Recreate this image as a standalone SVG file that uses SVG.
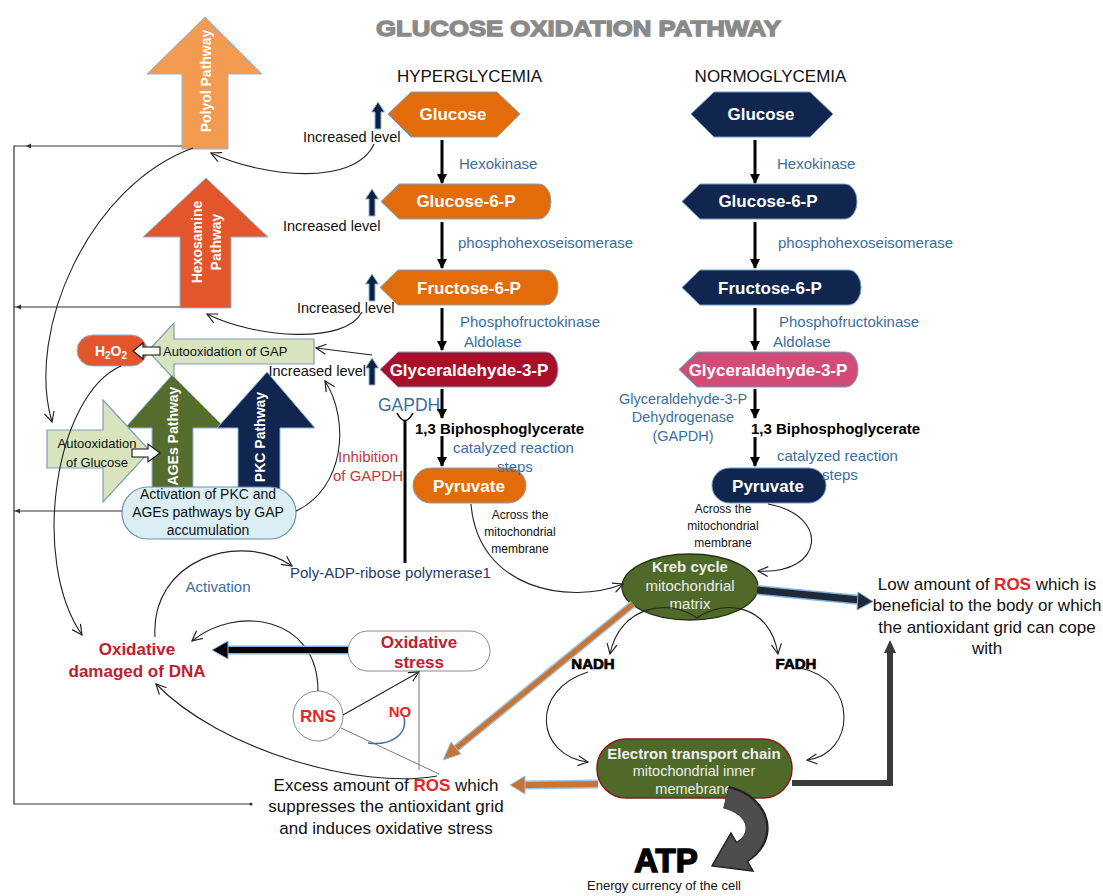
<svg xmlns="http://www.w3.org/2000/svg" width="1103" height="896" viewBox="0 0 1103 896">
<defs>
<style>
text{font-family:"Liberation Sans",Arial,sans-serif;}
.nt{font-weight:bold;fill:#fff;font-size:17px;text-anchor:middle}
.enz{fill:#3A6EA0;font-size:15px}
.lvl{fill:#111;font-size:14.5px}
.blk{fill:#111}
.red{fill:#C0202E;font-weight:bold;font-size:17px;text-anchor:middle}
.ros{fill:#E3262B;font-weight:bold}
.hyp{fill:#E36C0A;stroke:#7FA3C7;stroke-width:1}
.nor{fill:#10264F;stroke:#6F9BC8;stroke-width:1}
.thin{fill:none;stroke:#222;stroke-width:1.1;marker-end:url(#open)}
.step{stroke:#000;stroke-width:3;marker-end:url(#tri)}
.path{font-weight:bold;fill:#fff;font-size:14px;text-anchor:middle}
.lg{fill:#D7E4BD;stroke:#7F9DB9;stroke-width:1.2}
.wa{fill:#fff;stroke:#111;stroke-width:1.1}
.sm{fill:#111;font-size:12px;text-anchor:middle}
.gr{fill:#EDEDED;text-anchor:middle}
</style>
<marker id="tri" viewBox="0 0 10 10" refX="9" refY="5" markerWidth="10" markerHeight="10" markerUnits="userSpaceOnUse" orient="auto"><path d="M0,0 L10,5 L0,10 Z" fill="#000"/></marker>
<marker id="open" viewBox="0 0 12 12" refX="11" refY="6" markerWidth="12" markerHeight="12" markerUnits="userSpaceOnUse" orient="auto"><path d="M1,1 L11,6 L1,11" fill="none" stroke="#222" stroke-width="1.2"/></marker>
<path id="up" d="M0,0 L6.5,10 L3,10 L3,27 L-3,27 L-3,10 L-6.5,10 Z" fill="#0D2240" stroke="#8DB3E2" stroke-width="1"/>
</defs>

<rect width="1103" height="896" fill="#fff"/>

<text x="578.5" y="36" text-anchor="middle" font-size="22" font-weight="bold" fill="#8A8A8A" stroke="#8A8A8A" stroke-width="1.3" textLength="405" lengthAdjust="spacingAndGlyphs">GLUCOSE OXIDATION PATHWAY</text>
<text x="469.5" y="82" text-anchor="middle" font-size="17" fill="#111">HYPERGLYCEMIA</text>
<text x="770.5" y="82" text-anchor="middle" font-size="17" fill="#111">NORMOGLYCEMIA</text>

<!-- pathway block arrows -->
<g id="polyol">
<polygon points="205,17 262,74 228,74 228,149 182,149 182,74 147,74" fill="#F39B51" stroke="#8EB4E3" stroke-width="1"/>
<text class="path" transform="rotate(-90 206 81)" x="206" y="86">Polyol Pathway</text>
</g>
<g id="hexosamine">
<polygon points="206,178 268,237 231,237 231,308 180,308 180,237 143,237" fill="#E3562B" stroke="#8EB4E3" stroke-width="1"/>
<text class="path" transform="rotate(-90 206 242)" x="206" y="238">Hexosamine</text>
<text class="path" transform="rotate(-90 206 242)" x="206" y="257">Pathway</text>
</g>
<g id="autoox-gap">
<polygon class="lg" points="148,351 174,323 174,339 314,339 314,364 174,364 174,379"/>
<text x="163" y="356" font-size="13" class="blk">Autooxidation of GAP</text>
</g>
<g id="ages">
<polygon points="172,375 225,428 193,428 193,495 152,495 152,428 125,428" fill="#546C2C" stroke="#8EB4E3" stroke-width="1"/>
<text class="path" transform="rotate(-90 173 436)" x="173" y="441">AGEs Pathway</text>
</g>
<g id="pkc">
<polygon points="267,372 315,428 280,428 280,495 238,495 238,428 217,428" fill="#10264F" stroke="#8EB4E3" stroke-width="1"/>
<text class="path" transform="rotate(-90 260 437)" x="260" y="442">PKC Pathway</text>
</g>
<g id="autoox-glucose">
<polygon class="lg" points="47,430 103,430 103,400 150,451 103,502 103,468 47,468"/>
<text x="97" y="448" font-size="13" class="blk" text-anchor="middle">Autooxidation</text>
<text x="97" y="467" font-size="13" class="blk" text-anchor="middle">of Glucose</text>
<polygon class="wa" points="132,449 148,449 148,444 160,453 148,462 148,457 132,457"/>
</g>
<g id="h2o2">
<rect x="77" y="335" width="70" height="31" rx="15.5" fill="#E3562B" stroke="#8EB4E3" stroke-width="1"/>
<text x="111" y="356" font-size="14" font-weight="bold" fill="#fff" text-anchor="middle">H<tspan font-size="10" dy="3">2</tspan><tspan dy="-3">O</tspan><tspan font-size="10" dy="3">2</tspan></text>
<polygon class="wa" points="133,351 143,343 143,347 160,347 160,355 143,355 143,359"/>
</g>
<g id="activation">
<rect x="122" y="487" width="174" height="52" rx="26" fill="#DAEEF3" stroke="#6B8FB5" stroke-width="1.2"/>
<text x="208" y="499" font-size="14" class="blk" text-anchor="middle">Activation of PKC and</text>
<text x="208" y="517" font-size="14" class="blk" text-anchor="middle">AGEs pathways by GAP</text>
<text x="208" y="535" font-size="14" class="blk" text-anchor="middle">accumulation</text>
</g>

<!-- hyperglycemia column -->
<g id="h-glucose">
<polygon class="hyp" points="388,114 411,92 497,92 520,114 497,137 411,137"/>
<text class="nt" x="453" y="120">Glucose</text>
</g>
<g id="h-g6p">
<path class="hyp" d="M381,201.5 L399,184 H539 A12,17.5 0 0 1 539,219 H399 Z"/>
<text class="nt" x="466" y="207">Glucose-6-P</text>
</g>
<g id="h-f6p">
<path class="hyp" d="M380,287.5 L398,270 H546 A12,17.5 0 0 1 546,305 H398 Z"/>
<text class="nt" x="469" y="294">Fructose-6-P</text>
</g>
<g id="h-gap">
<path d="M380,369.5 L398,352 H546 A12,17.5 0 0 1 546,387 H398 Z" fill="#A8102A" stroke="#7FA3C7" stroke-width="1"/>
<text class="nt" x="469" y="376">Glyceraldehyde-3-P</text>
</g>
<g id="h-pyruvate">
<rect class="hyp" x="413" y="468" width="113" height="35" rx="17.5"/>
<text class="nt" x="469" y="492">Pyruvate</text>
</g>

<!-- normoglycemia column -->
<g id="n-glucose">
<polygon class="nor" points="691,114 714,92 810,92 833,114 810,137 714,137"/>
<text class="nt" x="761" y="120">Glucose</text>
</g>
<g id="n-g6p">
<path class="nor" d="M682,201.5 L700,184 H845 A12,17.5 0 0 1 845,219 H700 Z"/>
<text class="nt" x="768" y="207">Glucose-6-P</text>
</g>
<g id="n-f6p">
<path class="nor" d="M682,287.5 L700,270 H849 A12,17.5 0 0 1 849,305 H700 Z"/>
<text class="nt" x="770" y="294">Fructose-6-P</text>
</g>
<g id="n-gap">
<path d="M679,369.5 L697,352 H846 A12,17.5 0 0 1 846,387 H697 Z" fill="#D14D78" stroke="#6F9BC8" stroke-width="1"/>
<text class="nt" x="768" y="376">Glyceraldehyde-3-P</text>
</g>
<g id="n-pyruvate">
<rect class="nor" x="712" y="468" width="114" height="35" rx="17.5"/>
<text class="nt" x="768" y="492">Pyruvate</text>
</g>

<!-- mitochondria -->
<g id="kreb">
<ellipse cx="690" cy="587" rx="68" ry="33" fill="#4F6A28" stroke="#263314" stroke-width="1.3"/>
<text class="gr" x="690" y="572" font-size="15" font-weight="bold">Kreb cycle</text>
<text class="gr" x="690" y="591" font-size="15">mitochondrial</text>
<text class="gr" x="690" y="609" font-size="15">matrix</text>
</g>
<g id="etc">
<rect x="597" y="739" width="195" height="59" rx="29" fill="#4F6A28" stroke="#8B1A1A" stroke-width="1.5"/>
<text class="gr" x="694" y="759" font-size="15" font-weight="bold">Electron transport chain</text>
<text class="gr" x="694" y="776" font-size="14.5">mitochondrial inner</text>
<text class="gr" x="694" y="794" font-size="14.5">memebrane</text>
</g>
<g id="nadh"><text x="593" y="669" font-size="15" font-weight="bold" text-anchor="middle" fill="#000" stroke="#000" stroke-width="0.7">NADH</text></g>
<g id="fadh"><text x="796" y="669" font-size="15" font-weight="bold" text-anchor="middle" fill="#000" stroke="#000" stroke-width="0.7">FADH</text></g>

<g id="oxstress">
<rect x="348" y="631" width="142" height="40" rx="20" fill="#fff" stroke="#8A8A8A" stroke-width="1"/>
<text class="red" x="419" y="648">Oxidative</text>
<text class="red" x="419" y="668">stress</text>
</g>
<g id="dna">
<text class="red" x="137" y="655">Oxidative</text>
<text class="red" x="137" y="677">damaged of DNA</text>
</g>
<g id="rns">
<circle cx="318" cy="716" r="25" fill="#fff" stroke="#8A8A8A" stroke-width="1"/>
<text x="318" y="722" font-size="17" font-weight="bold" fill="#E3262B" text-anchor="middle">RNS</text>
</g>
<g id="parp"><text x="290" y="578" font-size="15" fill="#1F3B6A">Poly-ADP-ribose polymerase1</text></g>
<g id="excess-ros">
<text x="386" y="791" font-size="17" fill="#111" text-anchor="middle">Excess amount of <tspan class="ros">ROS</tspan> which</text>
<text x="386" y="812" font-size="17" fill="#111" text-anchor="middle">suppresses the antioxidant grid</text>
<text x="386" y="834" font-size="17" fill="#111" text-anchor="middle">and  induces oxidative stress</text>
</g>
<g id="low-ros">
<text x="987" y="590" font-size="17" fill="#111" text-anchor="middle">Low amount of <tspan class="ros">ROS</tspan> which is</text>
<text x="987" y="611" font-size="17" fill="#111" text-anchor="middle">beneficial to the body or which</text>
<text x="987" y="633" font-size="17" fill="#111" text-anchor="middle">the antioxidant grid can cope</text>
<text x="987" y="654" font-size="17" fill="#111" text-anchor="middle">with</text>
</g>
<g id="atp">
<text x="666" y="872" font-size="33" font-weight="bold" fill="#000" stroke="#000" stroke-width="1.5" text-anchor="middle">ATP</text>
<text x="664" y="890" font-size="13" fill="#111" text-anchor="middle">Energy currency of the cell</text>
</g>

<!-- labels -->
<g id="labels">
<text class="enz" x="459" y="169">Hexokinase</text>
<text class="enz" x="458" y="248">phosphohexoseisomerase</text>
<text class="enz" x="460" y="327">Phosphofructokinase</text>
<text class="enz" x="464" y="347">Aldolase</text>
<text class="enz" x="378" y="411" style="font-size:17.5px">GAPDH</text>
<text x="415" y="434" font-size="15" font-weight="bold" fill="#000">1,3 Biphosphoglycerate</text>
<text class="enz" x="453" y="453">catalyzed reaction</text>
<text class="enz" x="497" y="472">steps</text>
<text x="368" y="462" font-size="15" fill="#C03A3A" text-anchor="middle">Inhibition</text>
<text x="368" y="481" font-size="15" fill="#C03A3A" text-anchor="middle">of GAPDH</text>
<text class="sm" x="520" y="519">Across the</text>
<text class="sm" x="520" y="536">mitochondrial</text>
<text class="sm" x="520" y="553">membrane</text>

<text class="enz" x="777" y="169">Hexokinase</text>
<text class="enz" x="778" y="248">phosphohexoseisomerase</text>
<text class="enz" x="779" y="327">Phosphofructokinase</text>
<text class="enz" x="773" y="347">Aldolase</text>
<text class="enz" x="683" y="404" text-anchor="middle" style="font-size:14.5px">Glyceraldehyde-3-P</text>
<text class="enz" x="683" y="422" text-anchor="middle" style="font-size:14.5px">Dehydrogenase</text>
<text class="enz" x="683" y="441" text-anchor="middle" style="font-size:14.5px">(GAPDH)</text>
<text x="751" y="434" font-size="15" font-weight="bold" fill="#000">1,3 Biphosphoglycerate</text>
<text class="enz" x="777" y="461">catalyzed reaction</text>
<text class="enz" x="822" y="480">steps</text>
<text class="sm" x="723" y="513">Across the</text>
<text class="sm" x="723" y="530">mitochondrial</text>
<text class="sm" x="723" y="547">membrane</text>

<text class="lvl" x="303" y="142">Increased level</text>
<text class="lvl" x="283" y="231">Increased level</text>
<text class="lvl" x="297" y="313">Increased level</text>
<text class="lvl" x="366" y="376" text-anchor="end">Increased level</text>
<use href="#up" x="378" y="102"/>
<use href="#up" x="372" y="189"/>
<use href="#up" x="372" y="274"/>
<use href="#up" x="372" y="358"/>

<text x="218" y="592" font-size="15" fill="#3A6EA0" text-anchor="middle">Activation</text>
<text x="400" y="717" font-size="15" font-weight="bold" fill="#E3262B" stroke="#fff" stroke-width="3" paint-order="stroke" text-anchor="middle">NO</text>
</g>

<!-- connectors -->
<g id="connectors">
<line class="step" x1="442" y1="140" x2="442" y2="183"/>
<line class="step" x1="442" y1="222" x2="442" y2="268"/>
<line class="step" x1="442" y1="308" x2="442" y2="350"/>
<line class="step" x1="442" y1="389" x2="442" y2="418"/>
<line class="step" x1="442" y1="436" x2="442" y2="466"/>
<line class="step" x1="755" y1="140" x2="755" y2="183"/>
<line class="step" x1="755" y1="222" x2="755" y2="268"/>
<line class="step" x1="755" y1="308" x2="755" y2="350"/>
<line class="step" x1="755" y1="389" x2="755" y2="418"/>
<line class="step" x1="755" y1="437" x2="755" y2="466"/>

<!-- left frame -->
<polyline points="182,146 14,146 14,804 250,804" fill="none" stroke="#333" stroke-width="1.2"/>
<line x1="180" y1="307" x2="14" y2="307" stroke="#333" stroke-width="1.2"/>
<line x1="122" y1="511" x2="14" y2="511" stroke="#333" stroke-width="1.2"/>
<path d="M31,143.5 L26,146 L31,148.5 Z" fill="#333"/>
<path d="M21,304.5 L16,307 L21,309.5 Z" fill="#333"/>
<path d="M20,508.5 L15,511 L20,513.5 Z" fill="#333"/>
<circle cx="251" cy="804" r="1.5" fill="#333"/>

<path class="thin" d="M374,144 C355,186 265,178 211,153"/>
<path class="thin" d="M193,148 C90,185 25,330 52,422"/>
<path class="thin" d="M362,312 C345,345 255,338 207,314"/>
<path class="thin" d="M121,366 C55,395 30,560 82,635"/>
<path class="thin" d="M372,355 L316,348"/>
<path class="thin" d="M296,511 C345,488 350,420 325,381"/>
<path class="thin" d="M471,504 C478,590 570,605 623,584"/>
<path class="thin" d="M768,504 C830,515 825,575 758,571"/>
<path class="thin" d="M697,618 C670,598 620,605 610,654"/>
<path class="thin" d="M697,618 C725,598 770,605 778,654"/>
<path class="thin" d="M588,672 C530,690 535,755 588,762"/>
<path class="thin" d="M800,668 C860,680 855,755 807,760"/>
<path class="thin" d="M318,691 C318,615 235,605 192,641"/>
<path class="thin" d="M437,776 C360,790 220,750 156,684" stroke="#444"/>
<path class="thin" d="M155,637 C150,560 240,530 292,566"/>
<path class="thin" d="M343,715 L419,672"/>
<line x1="419" y1="672" x2="419" y2="770" stroke="#777" stroke-width="1"/>
<line x1="341" y1="728" x2="439" y2="774" stroke="#777" stroke-width="1"/>
<path d="M404,717 C408,735 390,746 368,743" fill="none" stroke="#3A6EA0" stroke-width="1.5"/>

<!-- inhibition -->
<path d="M397,413 Q405,428 413,413" fill="none" stroke="#000" stroke-width="1.5"/>
<line x1="405" y1="420" x2="405" y2="563" stroke="#000" stroke-width="3"/>

<!-- thick arrows -->
<line x1="348" y1="650" x2="226" y2="650" stroke="#7FB2E0" stroke-width="9"/>
<line x1="348" y1="650" x2="226" y2="650" stroke="#000" stroke-width="6"/>
<polygon points="212,650 228,641 228,659" fill="#000" stroke="#7FB2E0" stroke-width="1"/>

<line x1="757" y1="590" x2="860" y2="600" stroke="#7FB2E0" stroke-width="10"/>
<line x1="757" y1="590" x2="860" y2="600" stroke="#1F2A38" stroke-width="7"/>
<polygon points="873,601.5 858,592 857,610" fill="#1F2A38" stroke="#7FB2E0" stroke-width="1"/>

<line x1="633" y1="604" x2="454" y2="750" stroke="#9DC3E6" stroke-width="8"/>
<line x1="633" y1="604" x2="454" y2="750" stroke="#C87533" stroke-width="5"/>
<polygon points="443,760 451,742 461,754" fill="#C87533" stroke="#9DC3E6" stroke-width="1"/>

<line x1="598" y1="784" x2="523" y2="785" stroke="#9DC3E6" stroke-width="9"/>
<line x1="598" y1="784" x2="523" y2="785" stroke="#C87533" stroke-width="6"/>
<polygon points="510,785 525,776 525,794" fill="#C87533" stroke="#9DC3E6" stroke-width="1"/>

<polyline points="792,783 890,783 890,652" fill="none" stroke="#3A3A3A" stroke-width="6"/>
<polygon points="890,640 884,653 896,653" fill="#3A3A3A"/>

<!-- ATP curved arrow -->
<path d="M726,797 C762,806 766,838 742,852" fill="none" stroke="#222" stroke-width="23"/>
<polygon points="730.9,833 712,866 753.1,871" fill="#4D4D4D" stroke="#222" stroke-width="1.5"/>
<path d="M726,798 C761,807 765,838 740,853" fill="none" stroke="#4D4D4D" stroke-width="20.5"/>
</g>
</svg>
